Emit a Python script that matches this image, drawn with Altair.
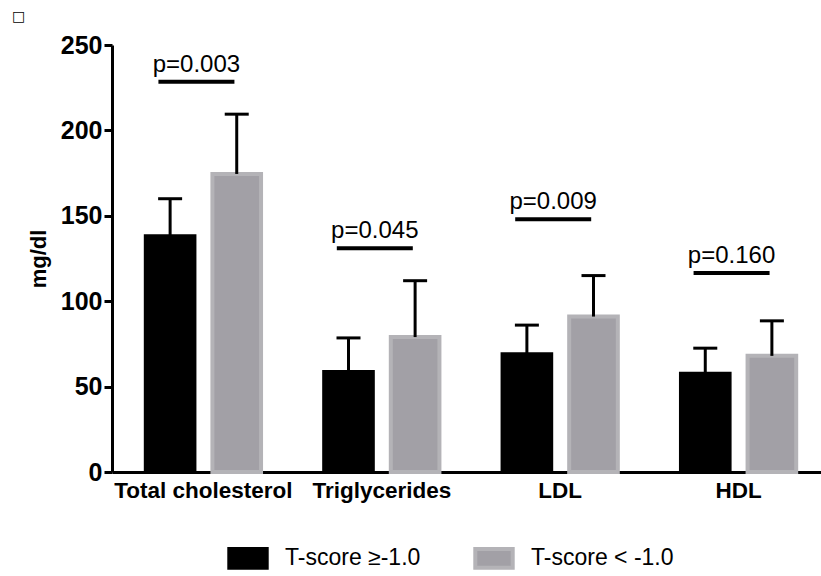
import altair as alt
import pandas as pd

categories = ["Total cholesterol", "Triglycerides", "LDL", "HDL"]
groups = ["T-score \u2265-1.0", "T-score < -1.0"]
mean_high = [138, 58.5, 69, 57.5]
sd_high = [22, 20, 17, 15]
mean_low = [174.5, 79, 91, 68]
sd_low = [35, 33, 24, 20.5]
p_labels = ["p=0.003", "p=0.045", "p=0.009", "p=0.160"]
p_heights = [228.5, 131, 148, 116.5]

rows = []
for i, c in enumerate(categories):
    rows.append({"cat": c, "group": groups[0], "mean": mean_high[i], "upper": mean_high[i] + sd_high[i]})
    rows.append({"cat": c, "group": groups[1], "mean": mean_low[i], "upper": mean_low[i] + sd_low[i]})
df = pd.DataFrame(rows)
pdf = pd.DataFrame({"cat": categories, "label": p_labels, "y": p_heights})

FONT = "Liberation Sans"

x_enc = alt.X("cat:N", sort=categories, title=None,
              scale=alt.Scale(paddingInner=0, paddingOuter=0.0125, range=[0, 718]),
              axis=alt.Axis(labelAngle=0, labelFontWeight="bold", labelFontSize=22.5,
                            labelColor="black", labelPadding=7, ticks=False,
                            domainColor="black", domainWidth=3, labelFont=FONT))
y_scale = alt.Scale(domain=[0, 250], nice=False)
xoff = alt.XOffset("group:N", sort=groups,
                   scale=alt.Scale(paddingInner=0.27, paddingOuter=0.474))

bars = alt.Chart(df).mark_bar(strokeWidth=4).encode(
    x=x_enc,
    xOffset=xoff,
    y=alt.Y("mean:Q", scale=y_scale, title="mg/dl",
            axis=alt.Axis(values=[0, 50, 100, 150, 200, 250], labelFontWeight="bold",
                          labelFontSize=25, labelColor="black", labelFont=FONT,
                          tickSize=8, tickWidth=3, tickColor="black",
                          domainColor="black", domainWidth=3, grid=False,
                          titleFontWeight="bold", titleFontSize=22, titleFont=FONT,
                          titleColor="black", titlePadding=10, labelPadding=2)),
    color=alt.Color("group:N", sort=groups,
                    scale=alt.Scale(domain=groups, range=["#000000", "#a2a0a6"]),
                    legend=alt.Legend(title=None, orient="none", legendX=115, legendY=492,
                                      direction="horizontal",
                                      symbolType="M-1,-0.5H1V0.5H-1Z", symbolSize=1400,
                                      symbolStrokeWidth=4,
                                      labelFontSize=23, labelFont=FONT, labelColor="black",
                                      labelOffset=16, columnPadding=46, symbolOpacity=1)),
    stroke=alt.Stroke("group:N", sort=groups,
                      scale=alt.Scale(domain=groups, range=["#000000", "#b4b3b7"])),
)

err = alt.Chart(df).mark_rule(strokeWidth=3, color="black").encode(
    x=alt.X("cat:N", sort=categories),
    xOffset=alt.XOffset("group:N", sort=groups),
    y=alt.Y("mean:Q", scale=y_scale),
    y2="upper:Q",
)

caps = alt.Chart(df).mark_tick(size=24, thickness=3, color="black", opacity=1).encode(
    x=alt.X("cat:N", sort=categories),
    xOffset=alt.XOffset("group:N", sort=groups),
    y=alt.Y("upper:Q", scale=y_scale),
)

plines = alt.Chart(pdf).mark_tick(size=76, thickness=4, color="black", opacity=1, xOffset=-7).encode(
    x=alt.X("cat:N", sort=categories),
    y=alt.Y("y:Q", scale=y_scale),
)

ptext = alt.Chart(pdf).mark_text(fontSize=24, font=FONT, color="black", baseline="alphabetic",
                                 dy=-10, xOffset=-7).encode(
    x=alt.X("cat:N", sort=categories),
    y=alt.Y("y:Q", scale=y_scale),
    text="label:N",
)

chart = alt.layer(bars, err, caps, plines, ptext).properties(
    width=709, height=427,
    autosize=alt.AutoSizeParams(type="none"),
    padding={"left": 112, "top": 45, "right": 0, "bottom": 104},
    title=alt.TitleParams("\u25a1", anchor="start", frame="group", fontSize=14,
                          fontWeight="normal", dx=-100, dy=-9, offset=0, color="black",
                          font="DejaVu Sans"),
).configure_view(stroke=None).configure_scale(bandPaddingInner=0)

chart.save("out.html", embed_options={"renderer": "svg", "actions": False})
